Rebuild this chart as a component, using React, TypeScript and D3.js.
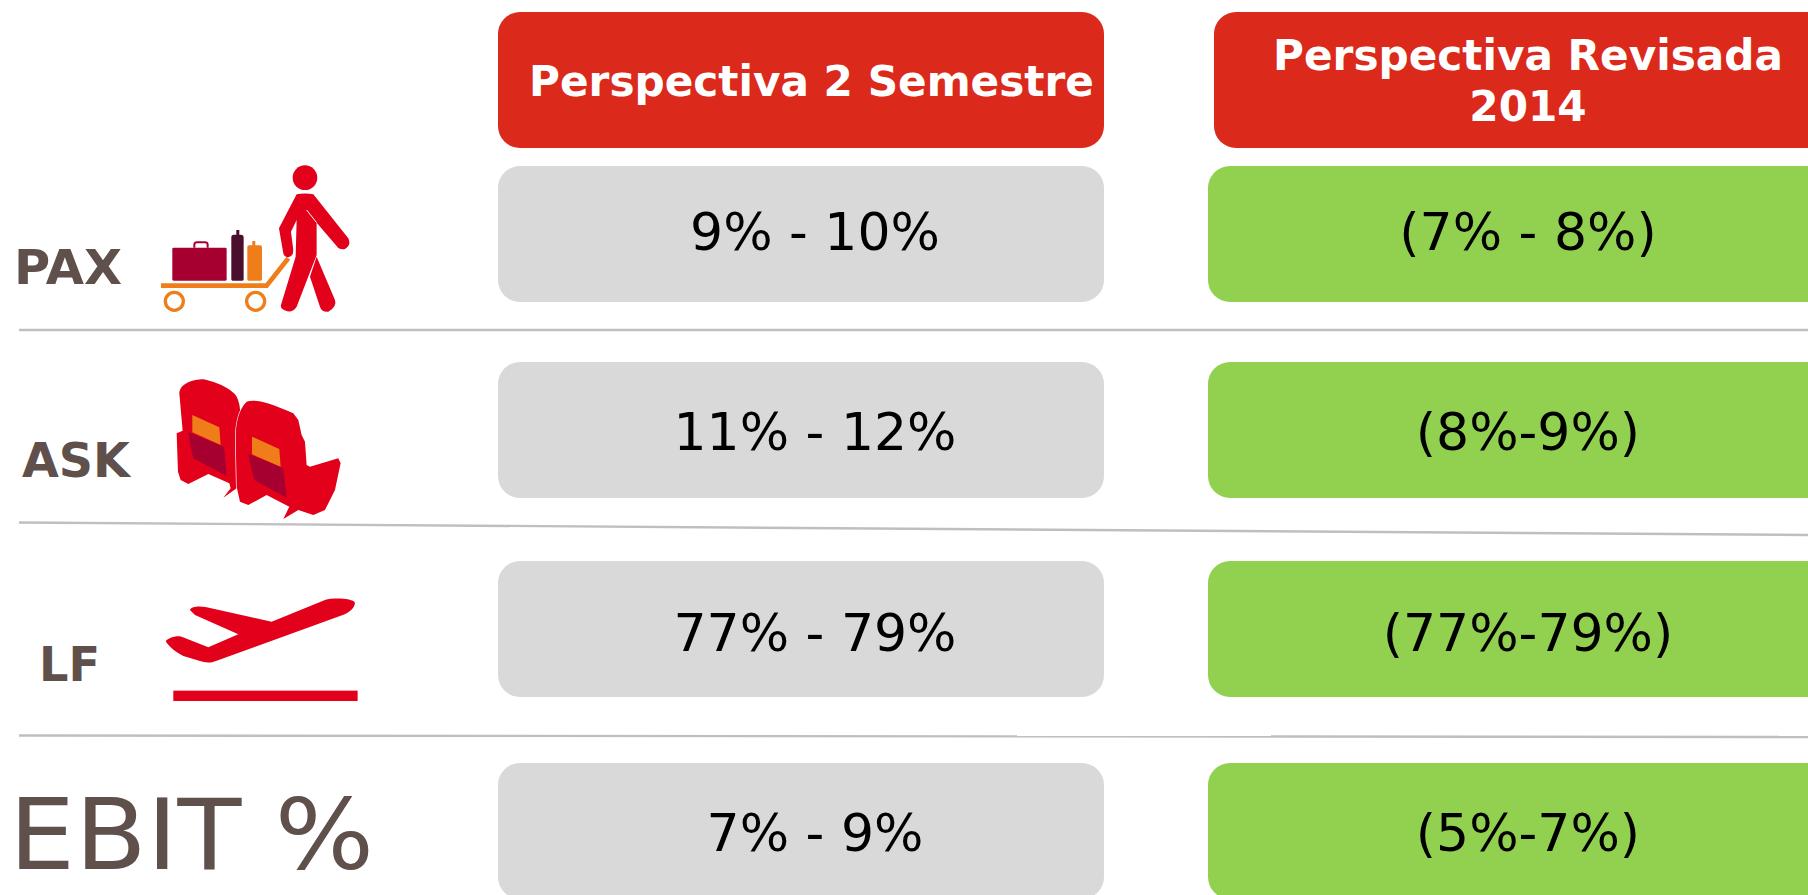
import React from 'react';
import * as d3 from 'd3';

// table content
const metrics = ['PAX', 'ASK', 'LF', 'EBIT %'];
const columns = ['Perspectiva 2 Semestre', 'Perspectiva Revisada 2014'];
const secondSemester = ['9% - 10%', '11% - 12%', '77% - 79%', '7% - 9%'];
const revised = ['(7% - 8%)', '(8%-9%)', '(77%-79%)', '(5%-7%)'];

const RED = '#e2001a';
const ORANGE = '#ef7d1a';
const CRIMSON = '#a50030';
const BROWN = '#5f504c';

const rowTop = d3.scaleOrdinal<string, number>().domain(metrics).range([166, 362, 561, 763]);
const rowBaseline = d3.scaleOrdinal<string, number>().domain(metrics).range([250, 450, 651, 851]);
const colLeft = d3.scaleOrdinal<string, number>().domain(columns).range([498, 1208]);
const colRight = d3.scaleOrdinal<string, number>().domain(columns).range([1104, 1840]);
const colCenter = d3.scaleOrdinal<string, number>().domain(columns).range([815, 1528]);
const colFill = d3.scaleOrdinal<string, string>().domain(columns).range(['#d9d9d9', '#92d050']);

const labelPos = [
  {x: 14, y: 284, size: 48, weight: 700, len: 108},
  {x: 22, y: 477, size: 48, weight: 700, len: 108},
  {x: 39, y: 681, size: 48, weight: 700, len: 61},
  {x: 9, y: 869, size: 98, weight: 400, len: 365},
];

const separators = [
  {x1: 19, y1: 330, y2: 330},
  {x1: 19, y1: 522.5, y2: 535},
  {x1: 19, y1: 735.5, y2: 737},
];

const font = '"DejaVu Sans", Verdana, sans-serif';

// icons are traced in 3x crop coordinates
function PaxIcon() {
  return (
    <g transform="translate(0,150) scale(0.3333)">
      <rect x={517} y={293} width={163} height={99} rx={4} fill={CRIMSON}/>
      <path d="M583,293 V284 Q583,277 592,277 H614 Q623,277 623,284 V293" fill="none" stroke={CRIMSON} strokeWidth={6}/>
      <path d="M694,262 Q694,254 702,254 H709 V240 H718 V254 H723 Q731,254 731,262 V388 Q731,392 727,392 H698 Q694,392 694,388 Z" fill="#4a0f2d"/>
      <path d="M742,292 Q742,286 748,286 H757 V273 H766 V286 H780 Q786,286 786,292 V388 Q786,392 782,392 H746 Q742,392 742,388 Z" fill={ORANGE}/>
      <path d="M483,407 H800 L865,325" fill="none" stroke={ORANGE} strokeWidth={14}/>
      <circle cx={523} cy={454} r={27} fill="#fff" stroke={ORANGE} strokeWidth={10}/>
      <circle cx={767} cy={454} r={27} fill="#fff" stroke={ORANGE} strokeWidth={10}/>
      <circle cx={915} cy={83} r={37} fill={RED}/>
      <path d="M890,133 Q915,128 940,133 L1045,265 Q1055,285 1035,297 Q1018,300 1010,288 L950,218 L950,315 L890,470 Q880,487 862,484 Q840,478 843,465 L887,320 L890,210 L873,245 L880,300 Q880,320 865,322 Q852,320 850,310 L837,235 Z" fill={RED}/>
      <path d="M920,180 L950,218" stroke="#fff" strokeWidth={3} fill="none"/>
      <path d="M950,320 L1005,450 Q1012,470 985,485 Q965,487 960,470 L930,380 Z" fill={RED}/>
    </g>
  );
}

function SeatIcon() {
  return (
    <g transform="translate(0,360) scale(0.3333)">
      <path d="M538,100 C540,70 580,58 610,58 C650,65 700,90 710,110 C720,130 722,150 722,200 L710,385 L670,413 L692,385 L688,370 L625,342 L565,372 L542,360 L534,335 L530,220 L548,212 Z" fill={RED}/>
      <path d="M577,165 L658,202 L662,255 L577,217 Z" fill={ORANGE}/>
      <path d="M565,217 L672,260 L680,348 L580,295 L572,260 Z" fill={CRIMSON}/>
      <path d="M707,230 C708,190 715,150 740,125 C765,118 800,125 880,160 L895,180 L905,225 L915,245 L920,315 L930,320 L1015,295 L1022,310 L1005,390 L975,450 L940,465 L895,450 L850,477 L868,440 L800,405 L745,435 L720,425 L710,380 Z" fill={RED} stroke="#fff" strokeWidth={4} paintOrder="stroke"/>
      <path d="M756,230 L838,267 L842,320 L756,283 Z" fill={ORANGE}/>
      <path d="M745,282 L850,325 L860,413 L763,360 L753,320 Z" fill={CRIMSON}/>
    </g>
  );
}

function PlaneIcon() {
  return (
    <g transform="translate(0,570) scale(0.3333)">
      <path d="M570,120 C575,108 600,108 620,112 L815,155 L975,90 C1000,82 1060,85 1065,98 C1065,115 1045,130 1020,138 L650,272 C630,280 615,278 600,273 L550,258 C525,245 505,228 497,213 C505,203 530,195 545,200 L625,232 L715,193 L585,135 Z" fill={RED}/>
      <rect x={520} y={362} width={553} height={31} fill={RED}/>
    </g>
  );
}

export default function App() {
  const series = [secondSemester, revised];
  return (
    <svg width={1808} height={895} style={{position: 'absolute', left: 0, top: 0, background: '#fff'}} fontFamily={font}>
      {/* headers */}
      <rect x={498} y={12} width={606} height={136} rx={22} fill="#db291c"/>
      <rect x={1214} y={12} width={640} height={136} rx={22} fill="#db291c"/>
      <g fill="#fff" fontWeight={700} textAnchor="middle" fontSize={42.2}>
        <text x={811.5} y={95.5}>{columns[0]}</text>
        <text x={1528} y={70}>Perspectiva Revisada</text>
        <text x={1528} y={121}>2014</text>
      </g>

      {separators.map((s, i) => (
        <line key={i} x1={s.x1} x2={1808} y1={s.y1} y2={s.y2} stroke="#bfbfbf" strokeWidth={2.4}/>
      ))}

      {columns.map((c, ci) => metrics.map((m, ri) => (
        <g key={c + m}>
          <rect x={colLeft(c)} y={rowTop(m)} width={colRight(c) - colLeft(c)} height={136} rx={22} fill={colFill(c)}/>
          <text x={colCenter(c)} y={rowBaseline(m)} textAnchor="middle" fontSize={52} fill="#000">{series[ci][ri]}</text>
        </g>
      )))}

      {metrics.map((m, i) => (
        <text key={m} x={labelPos[i].x} y={labelPos[i].y} fontSize={labelPos[i].size} fontWeight={labelPos[i].weight} fill={BROWN} textLength={labelPos[i].len} lengthAdjust="spacingAndGlyphs">{m}</text>
      ))}

      <PaxIcon/>
      <SeatIcon/>
      <PlaneIcon/>
    </svg>
  );
}
